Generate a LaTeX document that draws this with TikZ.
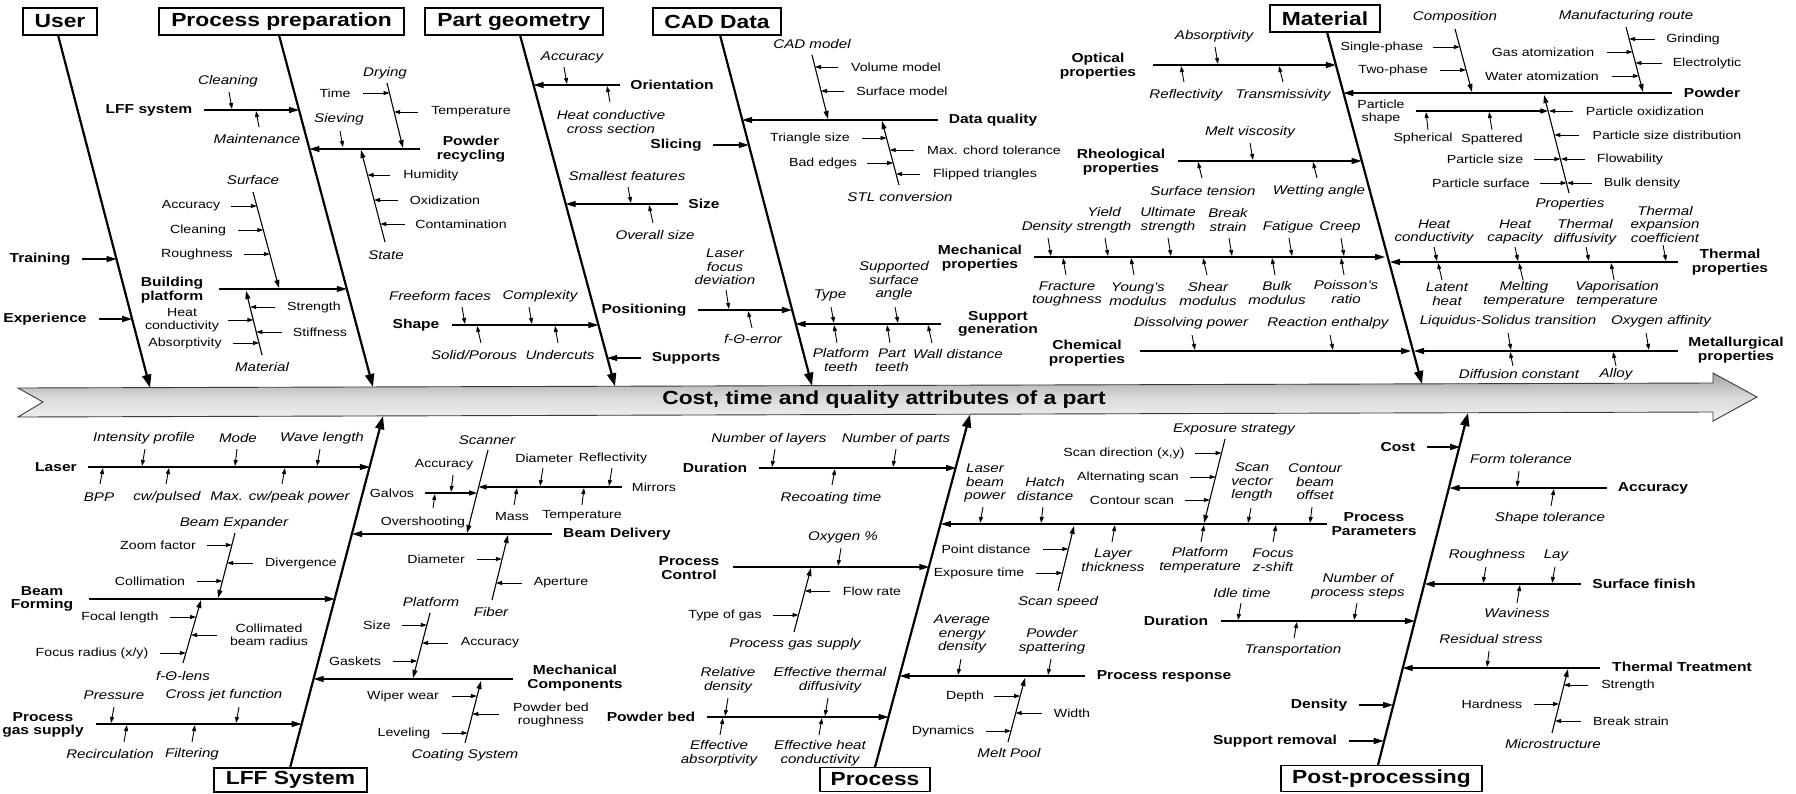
\documentclass[tikz,border=0pt]{standalone}
\usepackage{fontspec}
\setmainfont{Liberation Sans}[FakeStretch=1.2]
\usetikzlibrary{arrows.meta}
\begin{document}
\begin{tikzpicture}[x=1pt,y=-1pt,
 t/.style={font=\fontsize{11.8}{12.5}\selectfont, inner sep=0pt, align=center},
 it/.style={font=\fontsize{12.6}{13.5}\selectfont\itshape, inner sep=0pt, align=center},
 bf/.style={font=\fontsize{13}{13.5}\selectfont\bfseries, inner sep=0pt, align=center},
 ttl/.style={draw, line width=1.2pt, fill=white, font=\fontsize{19}{20}\selectfont\bfseries, inner sep=0pt},
 bone/.style={line width=2.2pt, -{Triangle[length=13pt,width=9pt]}},
 br/.style={line width=1.3pt, -{Triangle[length=10pt,width=6pt]}},
 sb/.style={line width=1.1pt, -{Triangle[length=8pt,width=5pt]}},
 tk/.style={line width=0.9pt, -{Triangle[length=6pt,width=4pt]}}]
\useasboundingbox (0,0) rectangle (1796,793);
\fill[white] (0,0) rectangle (1796,793);
% spine
\shade[top color=gray!72, bottom color=gray!10, middle color=gray!30, draw=gray!45!black, line width=0.9pt]
 (18,388) -- (1713,383) -- (1713,373) -- (1757,397) -- (1713,421) -- (1713,412) -- (18,417) -- (43,402) -- cycle;
\node[font=\fontsize{19}{20}\selectfont\bfseries] (spine) at (884,400) {Cost, time and quality attributes of a part};
% titles
\node[ttl, minimum width=74pt, minimum height=27pt] (user) at (60,21.5) {User};
\node[ttl, minimum width=245pt, minimum height=27pt] (pp) at (281.5,21.5) {Process preparation};
\node[ttl, minimum width=178pt, minimum height=27pt] (pg) at (514,21.5) {Part geometry};
\node[ttl, minimum width=128pt, minimum height=27pt] (cad) at (717,21.5) {CAD Data};
\node[ttl, minimum width=110pt, minimum height=27pt] (mat) at (1325,18.5) {Material};
\node[ttl, minimum width=153pt, minimum height=24pt] (lffS) at (290.5,780) {LFF System};
\node[ttl, minimum width=110pt, minimum height=24pt] (proc) at (875,779.5) {Process};
\node[ttl, minimum width=201pt, minimum height=26pt] (post) at (1381.5,778.5) {Post-processing};
% bone coordinates
\coordinate (userT) at (58,35);   \coordinate (userE) at (150,387.6);
\coordinate (ppT) at (279,35);    \coordinate (ppE) at (373,387);
\coordinate (pgT) at (520,35);    \coordinate (pgE) at (615,386.3);
\coordinate (cadT) at (720,35);   \coordinate (cadE) at (812,385.7);
\coordinate (matT) at (1327,32);  \coordinate (matE) at (1422,384);
\coordinate (lffT) at (290,768);  \coordinate (lffE) at (383,416.2);
\coordinate (procT) at (875,767); \coordinate (procE) at (970,414.5);
\coordinate (postT) at (1378,765);\coordinate (postE) at (1468,413);
\foreach \b in {user,pp,pg,cad,mat,lff,proc,post} {\draw[bone] (\b T) -- (\b E);}
% ===== User
\node[bf] (training) at (40,259) {Training};
\draw[br] (82,259) -- (116.6,259);
\node[bf] (experience) at (45,319) {Experience};
\draw[br] (99,319) -- (132.2,319);
% ===== Process preparation
\node[bf] (lffsys) at (149,110) {LFF system};
\draw[br] (204,110) -- (299,110);
\node[it] (clean1) at (228,81) {Cleaning};
\draw[tk] (229,92) -- (232,109);
\node[it] (maint) at (257,139) {Maintenance};
\draw[tk] (259,127) -- (256,111);
\node[bf] (powrec) at (471,149) {Powder\\recycling};
\draw[br] (420,149) -- (309.4,149);
\node[it] (drying) at (385,73) {Drying};
\draw[sb] (387,83) -- (403,148);
\node[t] (time) at (335,93) {Time};
\draw[tk] (363,93) -- (389.5,93);
\node[t] (temp1) at (471,112) {Temperature};
\draw[tk] (418,112) -- (394.1,112);
\node[it] (sieving) at (339,119) {Sieving};
\draw[tk] (340,131) -- (343,147);
\node[it] (state) at (386,255) {State};
\draw[sb] (385,242) -- (361,150);
\node[t] (humid) at (431,175) {Humidity};
\draw[tk] (390,175) -- (367.5,175);
\node[t] (oxid) at (445,200) {Oxidization};
\draw[tk] (398,200) -- (374,200);
\node[t] (contam) at (461,224) {Contamination};
\draw[tk] (405,224) -- (380.3,224);
\node[bf] (bplat) at (172,290) {Building\\platform};
\draw[br] (219,289) -- (346.8,289);
\node[it] (surface) at (253,180) {Surface};
\draw[sb] (253,192) -- (279,288);
\node[t] (acc1) at (191,206) {Accuracy};
\draw[tk] (231,206) -- (256.8,206);
\node[t] (clean2) at (198,230) {Cleaning};
\draw[tk] (238,230) -- (263.3,230);
\node[t] (rough1) at (197,254) {Roughness};
\draw[tk] (244,254) -- (269.8,254);
\node[it] (material1) at (262,367) {Material};
\draw[sb] (262,355) -- (246,291);
\node[t] (strength1) at (314,307) {Strength};
\draw[tk] (275,307) -- (250.2,307);
\node[t] (stiff) at (320,332) {Stiffness};
\draw[tk] (282,332) -- (256.3,332);
\node[t] (heatc) at (182,320) {Heat\\conductivity};
\draw[tk] (228,320) -- (253.4,320);
\node[t] (absorp1) at (185,343) {Absorptivity};
\draw[tk] (233,343) -- (259.1,343);
% ===== Part geometry
\node[bf] (orient) at (672,85) {Orientation};
\draw[br] (620,85) -- (533.5,85);
\node[it] (acc2) at (572,57) {Accuracy};
\draw[tk] (564,67) -- (567,84);
\node[it] (heatcs) at (611,122) {Heat conductive\\cross section};
\draw[tk] (610,102) -- (607,86);
\node[bf] (slicing) at (676,145) {Slicing};
\draw[br] (713,145) -- (748.8,145);
\node[bf] (size) at (704,204) {Size};
\draw[br] (678,204) -- (565.6,204);
\node[it] (smallest) at (627,176) {Smallest features};
\draw[tk] (628,187) -- (631,203);
\node[it] (overall) at (655,235) {Overall size};
\draw[tk] (653,223) -- (649,205);
\node[bf] (shape) at (416,325) {Shape};
\draw[br] (452,325) -- (598.3,325);
\node[it] (freeform) at (440,296) {Freeform faces};
\draw[tk] (462,307) -- (465,324);
\node[it] (complex) at (540,296) {Complexity};
\draw[tk] (529,307) -- (532,324);
\node[it] (solid) at (474,355) {Solid/Porous};
\draw[tk] (481,343) -- (477,326);
\node[it] (under) at (560,355) {Undercuts};
\draw[tk] (558,343) -- (555,326);
\node[bf] (posit) at (644,310) {Positioning};
\draw[br] (698,310) -- (791.9,310);
\node[it] (lfd) at (725,267) {Laser\\focus\\deviation};
\draw[tk] (726,290) -- (729,309);
\node[it] (fte) at (753,339) {f-Θ-error};
\draw[tk] (752,328) -- (748,311);
\node[bf] (supports) at (686,358) {Supports};
\draw[br] (641,358) -- (607.2,358);
% ===== CAD data
\node[bf] (dq) at (993,120) {Data quality};
\draw[br] (938,120) -- (742.2,120);
\node[it] (cadm) at (812,44) {CAD model};
\draw[sb] (812,55) -- (828,119);
\node[t] (volm) at (896,67) {Volume model};
\draw[tk] (838,67) -- (815,67);
\node[t] (surfm) at (902,91) {Surface model};
\draw[tk] (844,91) -- (821,91);
\node[it] (stl) at (900,197) {STL conversion};
\draw[sb] (899,185) -- (882,121);
\node[t] (tris) at (810,138) {Triangle size};
\draw[tk] (862,138) -- (886.5,138);
\node[t] (bade) at (823,163) {Bad edges};
\draw[tk] (867,163) -- (893.2,163);
\node[t] (mct) at (994,150) {Max. chord tolerance};
\draw[tk] (914,150) -- (889.7,150);
\node[t] (flip) at (985,174) {Flipped triangles};
\draw[tk] (920,174) -- (896.1,174);
\node[bf] (supgen) at (998,324) {Support\\generation};
\draw[br] (941,324) -- (795.5,324);
\node[it] (type) at (830,295) {Type};
\draw[tk] (831,307) -- (834,323);
\node[it] (ssa) at (894,281) {Supported\\surface\\angle};
\draw[tk] (895,307) -- (898,323);
\node[it] (platt) at (841,360) {Platform\\teeth};
\draw[tk] (837,343) -- (834,325);
\node[it] (partt) at (892,360) {Part\\teeth};
\draw[tk] (890,343) -- (887,325);
\node[it] (walld) at (958,354) {Wall distance};
\draw[tk] (932,343) -- (928,325);
% ===== Material (left side)
\node[bf] (optical) at (1098,66) {Optical\\properties};
\draw[br] (1153,65) -- (1335.8,65);
\node[it] (absorp2) at (1214,36) {Absorptivity};
\draw[tk] (1215,47) -- (1218,64);
\node[it] (reflect) at (1186,95) {Reflectivity};
\draw[tk] (1184,82) -- (1181,66);
\node[it] (transm) at (1283,95) {Transmissivity};
\draw[tk] (1283,82) -- (1279,66);
\node[bf] (rheo) at (1121,162) {Rheological\\properties};
\draw[br] (1178,161) -- (1361.5,161);
\node[it] (meltv) at (1250,132) {Melt viscosity};
\draw[tk] (1250,143) -- (1253,160);
\node[it] (surft) at (1203,191) {Surface tension};
\draw[tk] (1202,178) -- (1198,162);
\node[it] (wett) at (1319,191) {Wetting angle};
\draw[tk] (1317,178) -- (1313,162);
\node[bf] (mech) at (980,258) {Mechanical\\properties};
\draw[br] (1034,257) -- (1385,257);
\node[it] (dens1) at (1047,227) {Density};
\draw[tk] (1048,238) -- (1051,256);
\node[it] (yield) at (1104,220) {Yield\\strength};
\draw[tk] (1105,238) -- (1108,256);
\node[it] (ult) at (1168,220) {Ultimate\\strength};
\draw[tk] (1168,238) -- (1171,256);
\node[it] (brk1) at (1228,220) {Break\\strain};
\draw[tk] (1229,238) -- (1232,256);
\node[it] (fatigue) at (1288,227) {Fatigue};
\draw[tk] (1289,238) -- (1292,256);
\node[it] (creep) at (1340,227) {Creep};
\draw[tk] (1341,238) -- (1344,256);
\node[it] (fract) at (1067,294) {Fracture\\toughness};
\draw[tk] (1066,275) -- (1063,258);
\node[it] (young) at (1138,294) {Young's\\modulus};
\draw[tk] (1134,275) -- (1131,258);
\node[it] (shear) at (1208,294) {Shear\\modulus};
\draw[tk] (1207,275) -- (1203,258);
\node[it] (bulk) at (1277,293) {Bulk\\modulus};
\draw[tk] (1275,275) -- (1272,258);
\node[it] (poisson) at (1346,292) {Poisson's\\ratio};
\draw[tk] (1344,275) -- (1341,258);
\node[bf] (chem) at (1087,353) {Chemical\\properties};
\draw[br] (1140,351) -- (1411,351);
\node[it] (dissolv) at (1191,323) {Dissolving power};
\draw[tk] (1192,335) -- (1195,350);
\node[it] (react) at (1328,323) {Reaction enthalpy};
\draw[tk] (1330,335) -- (1333,350);
% ===== Material (right side)
\node[bf] (powder) at (1712,93) {Powder};
\draw[br] (1672,93) -- (1343.3,93);
\node[it] (compo) at (1455,17) {Composition};
\draw[sb] (1455,29) -- (1472,92);
\node[t] (single) at (1382,47) {Single-phase};
\draw[tk] (1433,47) -- (1459.9,47);
\node[t] (twoph) at (1393,70) {Two-phase};
\draw[tk] (1440,70) -- (1466.1,70);
\node[it] (manuf) at (1626,16) {Manufacturing route};
\draw[sb] (1626,27) -- (1643,92);
\node[t] (grind) at (1693,39) {Grinding};
\draw[tk] (1655,39) -- (1629.1,39);
\node[t] (electro) at (1707,63) {Electrolytic};
\draw[tk] (1662,63) -- (1635.4,63);
\node[t] (gasat) at (1543,52) {Gas atomization};
\draw[tk] (1607,52) -- (1632.5,52);
\node[t] (watat) at (1542,76) {Water atomization};
\draw[tk] (1612,76) -- (1638.8,76);
\node[it] (props) at (1570,204) {Properties};
\draw[sb] (1569,193) -- (1544,95);
\node[t] (pshape) at (1381,112) {Particle\\shape};
\draw[sb] (1416,111) -- (1548.3,111);
\node[t] (spher) at (1423,138) {Spherical};
\draw[tk] (1428,130) -- (1426,112);
\node[t] (spatt) at (1492,139) {Spattered};
\draw[tk] (1492,130) -- (1489,112);
\node[t] (poxid) at (1645,111) {Particle oxidization};
\draw[tk] (1573,111) -- (1549,111);
\node[t] (psd) at (1667,135) {Particle size distribution};
\draw[tk] (1579,135) -- (1554.4,135);
\node[t] (psize) at (1485,159) {Particle size};
\draw[tk] (1534,159) -- (1560.4,159);
\node[t] (flow) at (1630,159) {Flowability};
\draw[tk] (1585,159) -- (1561,159);
\node[t] (psurf) at (1481,183) {Particle surface};
\draw[tk] (1540,183) -- (1566.5,183);
\node[t] (bulkd) at (1642,183) {Bulk density};
\draw[tk] (1592,183) -- (1567,183);
\node[bf] (thermal) at (1730,262) {Thermal\\properties};
\draw[br] (1678,262) -- (1390,262);
\node[it] (hcond) at (1434,232) {Heat\\conductivity};
\draw[tk] (1434,247) -- (1437,261);
\node[it] (hcap) at (1515,232) {Heat\\capacity};
\draw[tk] (1515,247) -- (1518,261);
\node[it] (tdiff) at (1585,232) {Thermal\\diffusivity};
\draw[tk] (1586,247) -- (1589,261);
\node[it] (texp) at (1665,224) {Thermal\\expansion\\coefficient};
\draw[tk] (1663,245) -- (1666,261);
\node[it] (latent) at (1447,294) {Latent\\heat};
\draw[tk] (1442,280) -- (1438,263);
\node[it] (meltt) at (1524,294) {Melting\\temperature};
\draw[tk] (1523,280) -- (1519,263);
\node[it] (vapt) at (1617,294) {Vaporisation\\temperature};
\draw[tk] (1614,280) -- (1611,263);
\node[bf] (metal) at (1736,350) {Metallurgical\\properties};
\draw[br] (1678,351) -- (1414,351);
\node[it] (liqsol) at (1508,321) {Liquidus-Solidus transition};
\draw[tk] (1508,333) -- (1511,350);
\node[it] (oxaff) at (1661,321) {Oxygen affinity};
\draw[tk] (1646,333) -- (1649,350);
\node[it] (diffc) at (1519,374) {Diffusion constant};
\draw[tk] (1513,366) -- (1510,352);
\node[it] (alloy) at (1616,374) {Alloy};
\draw[tk] (1616,366) -- (1613,352);
% ===== LFF System
\node[bf] (laser) at (56,467) {Laser};
\draw[br] (88,467) -- (369.8,467);
\node[it] (intprof) at (144,438) {Intensity profile};
\draw[tk] (145,449) -- (142,466);
\node[it] (mode) at (238,438) {Mode};
\draw[tk] (237,449) -- (235,466);
\node[it] (wavel) at (322,438) {Wave length};
\draw[tk] (320,449) -- (317,466);
\node[it] (bpp) at (99,497) {BPP};
\draw[tk] (100,484) -- (103,468);
\node[it] (cwp) at (167,497) {cw/pulsed};
\draw[tk] (166,484) -- (169,468);
\node[it] (maxcw) at (280,497) {Max. cw/peak power};
\draw[tk] (282,484) -- (285,468);
\node[bf] (bform) at (42,599) {Beam\\Forming};
\draw[br] (89,599) -- (334.8,599);
\node[it] (bexp) at (234,523) {Beam Expander};
\draw[sb] (235,533) -- (218,598);
\node[t] (zoomf) at (158,545) {Zoom factor};
\draw[tk] (207,545) -- (231.9,545);
\node[t] (diverg) at (301,563) {Divergence};
\draw[tk] (253,563) -- (227.2,563);
\node[t] (collim) at (150,581) {Collimation};
\draw[tk] (197,581) -- (222.4,581);
\node[it] (ftl) at (183,676) {f-Θ-lens};
\draw[sb] (183,663) -- (201,600);
\node[t] (focal) at (120,617) {Focal length};
\draw[tk] (170,617) -- (196.1,617);
\node[t] (cbr) at (269,635) {Collimated\\beam radius};
\draw[tk] (217,635) -- (191,635);
\node[t] (focr) at (92,653) {Focus radius (x/y)};
\draw[tk] (160,653) -- (185.9,653);
\node[bf] (pgs) at (43,725) {Process\\gas supply};
\draw[br] (96,724) -- (301.7,724);
\node[it] (press) at (114,695) {Pressure};
\draw[tk] (114,707) -- (111,723);
\node[it] (cjf) at (224,695) {Cross jet function};
\draw[tk] (239,707) -- (236,723);
\node[it] (recirc) at (110,754) {Recirculation};
\draw[tk] (124,742) -- (127,725);
\node[it] (filt) at (192,754) {Filtering};
\draw[tk] (192,742) -- (195,725);
\node[bf] (bdel) at (617,534) {Beam Delivery};
\draw[br] (552,534) -- (352,534);
\node[it] (scanner) at (487,440) {Scanner};
\draw[sb] (488,450) -- (467,533);
\node[t] (galvos) at (392,493) {Galvos};
\draw[sb] (425,493) -- (477.1,493);
\node[t] (acc3) at (444,465) {Accuracy};
\draw[tk] (453,475) -- (451,492);
\node[t] (oversh) at (423,522) {Overshooting};
\draw[tk] (433,508) -- (435,494);
\node[t] (mirrors) at (654,487) {Mirrors};
\draw[sb] (622,487) -- (478.6,487);
\node[t] (diam1) at (544,458) {Diameter};
\draw[tk] (543,468) -- (540,486);
\node[t] (reflect2) at (613,458) {Reflectivity};
\draw[tk] (612,468) -- (609,486);
\node[t] (mass) at (512,516) {Mass};
\draw[tk] (514,505) -- (517,488);
\node[t] (temp2) at (582,516) {Temperature};
\draw[tk] (582,505) -- (584,488);
\node[it] (fiber) at (491,612) {Fiber};
\draw[sb] (492,600) -- (508,535);
\node[t] (diam2) at (436,559) {Diameter};
\draw[tk] (477,559) -- (501.8,559);
\node[t] (apert) at (561,583) {Aperture};
\draw[tk] (522,583) -- (496,583);
\node[bf] (mechc) at (575,678) {Mechanical\\Components};
\draw[br] (513,679) -- (313.6,679);
\node[it] (platform) at (431,602) {Platform};
\draw[sb] (430,613) -- (413,678);
\node[t] (size2) at (377,625) {Size};
\draw[tk] (402,625) -- (426.8,625);
\node[t] (acc4) at (490,643) {Accuracy};
\draw[tk] (448,643) -- (422,643);
\node[t] (gaskets) at (355,661) {Gaskets};
\draw[tk] (393,661) -- (417.2,661);
\node[it] (coat) at (465,755) {Coating System};
\draw[sb] (465,743) -- (481,681);
\node[t] (wiper) at (403,696) {Wiper wear};
\draw[tk] (452,696) -- (476.9,696);
\node[t] (pbr) at (551,715) {Powder bed\\roughness};
\draw[tk] (499,714) -- (472.4,714);
\node[t] (level) at (404,733) {Leveling};
\draw[tk] (442,733) -- (467.5,733);
% ===== Process
\node[bf] (dur1) at (715,468) {Duration};
\draw[br] (759,468) -- (956.1,468);
\node[it] (nlay) at (769,439) {Number of layers};
\draw[tk] (775,449) -- (772,467);
\node[it] (nparts) at (896,439) {Number of parts};
\draw[tk] (896,449) -- (893,467);
\node[it] (recoat) at (831,498) {Recoating time};
\draw[tk] (832,485) -- (835,469);
\node[bf] (pctrl) at (689,568) {Process\\Control};
\draw[br] (733,567) -- (929.3,567);
\node[it] (oxy) at (843,537) {Oxygen \%};
\draw[tk] (841,548) -- (838,566);
\node[it] (pgs2) at (795,644) {Process gas supply};
\draw[sb] (794,632) -- (811,568);
\node[t] (flowr) at (872,591) {Flow rate};
\draw[tk] (830,591) -- (804.9,591);
\node[t] (tgas) at (725,615) {Type of gas};
\draw[tk] (773,615) -- (798.5,615);
\node[bf] (pbed) at (651,717) {Powder bed};
\draw[br] (707,717) -- (888.6,717);
\node[it] (reld) at (728,680) {Relative\\density};
\draw[tk] (728,698) -- (725,716);
\node[it] (etd) at (830,680) {Effective thermal\\diffusivity};
\draw[tk] (828,698) -- (825,716);
\node[it] (eabs) at (719,753) {Effective\\absorptivity};
\draw[tk] (720,735) -- (723,718);
\node[it] (ehc) at (820,753) {Effective heat\\conductivity};
\draw[tk] (819,735) -- (822,718);
\node[bf] (ppar) at (1374,524) {Process\\Parameters};
\draw[br] (1327,524) -- (940.9,524);
\node[it] (lbp) at (985,483) {Laser\\beam\\power};
\draw[tk] (983,507) -- (980,523);
\node[it] (hatch) at (1045,489) {Hatch\\distance};
\draw[tk] (1043,507) -- (1041,523);
\node[it] (expstr) at (1234,429) {Exposure strategy};
\draw[sb] (1225,439) -- (1204,523);
\node[t] (scandir) at (1124,453) {Scan direction (x,y)};
\draw[tk] (1195,453) -- (1221.5,453);
\node[t] (altscan) at (1128,477) {Alternating scan};
\draw[tk] (1190,477) -- (1215.6,477);
\node[t] (contscan) at (1132,500) {Contour scan};
\draw[tk] (1185,500) -- (1209.9,500);
\node[it] (svl) at (1252,482) {Scan\\vector\\length};
\draw[tk] (1251,508) -- (1248,523);
\node[it] (cbo) at (1315,482) {Contour\\beam\\offset};
\draw[tk] (1312,507) -- (1310,523);
\node[it] (sspeed) at (1058,602) {Scan speed};
\draw[sb] (1058,591) -- (1074,526);
\node[t] (pdist) at (986,549) {Point distance};
\draw[tk] (1043,549) -- (1068.3,549);
\node[t] (exptime) at (979,573) {Exposure time};
\draw[tk] (1036,573) -- (1062.4,573);
\node[it] (layert) at (1113,560) {Layer\\thickness};
\draw[tk] (1112,542) -- (1115,525);
\node[it] (platt2) at (1200,560) {Platform\\temperature};
\draw[tk] (1201,542) -- (1204,525);
\node[it] (focz) at (1273,560) {Focus\\z-shift};
\draw[tk] (1273,542) -- (1276,525);
\node[bf] (presp) at (1164,676) {Process response};
\draw[br] (1085,676) -- (899.7,676);
\node[it] (aed) at (962,634) {Average\\energy\\density};
\draw[tk] (961,659) -- (958,675);
\node[it] (pspat) at (1052,641) {Powder\\spattering};
\draw[tk] (1051,659) -- (1048,675);
\node[it] (mpool) at (1009,753) {Melt Pool};
\draw[sb] (1008,742) -- (1025,678);
\node[t] (depth) at (965,696) {Depth};
\draw[tk] (994,696) -- (1020.2,696);
\node[t] (width) at (1072,713) {Width};
\draw[tk] (1042,713) -- (1015.7,713);
\node[t] (dyn) at (943,731) {Dynamics};
\draw[tk] (986,731) -- (1010.9,731);
\node[bf] (dur2) at (1176,621) {Duration};
\draw[br] (1221,621) -- (1414.9,621);
\node[it] (idle) at (1242,593) {Idle time};
\draw[tk] (1241,603) -- (1238,620);
\node[it] (nps) at (1358,586) {Number of\\process steps};
\draw[tk] (1357,603) -- (1354,620);
\node[it] (transp) at (1293,650) {Transportation};
\draw[tk] (1294,638) -- (1297,622);
\node[bf] (density2) at (1319,705) {Density};
\draw[br] (1359,705) -- (1393.1,705);
\node[bf] (suprem) at (1275,741) {Support removal};
\draw[br] (1349,741) -- (1383.7,741);
% ===== Post-processing
\node[bf] (cost) at (1398,447) {Cost};
\draw[br] (1427,447) -- (1460.2,447);
\node[bf] (acc5) at (1653,488) {Accuracy};
\draw[br] (1607,488) -- (1449.5,488);
\node[it] (formt) at (1521,459) {Form tolerance};
\draw[tk] (1519,471) -- (1517,487);
\node[it] (shapet) at (1550,518) {Shape tolerance};
\draw[tk] (1551,506) -- (1554,489);
\node[bf] (surff) at (1644,584) {Surface finish};
\draw[br] (1581,584) -- (1424.6,584);
\node[it] (rough2) at (1487,555) {Roughness};
\draw[tk] (1486,567) -- (1483,583);
\node[it] (lay) at (1556,555) {Lay};
\draw[tk] (1555,567) -- (1552,583);
\node[it] (wavi) at (1517,613) {Waviness};
\draw[tk] (1517,603) -- (1520,585);
\node[bf] (thtr) at (1682,667) {Thermal Treatment};
\draw[br] (1600,668) -- (1402.7,668);
\node[it] (resid) at (1491,639) {Residual stress};
\draw[tk] (1489,651) -- (1487,667);
\node[it] (micro) at (1553,744) {Microstructure};
\draw[sb] (1552,733) -- (1568,669);
\node[t] (strength2) at (1628,685) {Strength};
\draw[tk] (1588,685) -- (1563.8,685);
\node[t] (hard) at (1492,704) {Hardness};
\draw[tk] (1534,704) -- (1559.1,704);
\node[t] (brk2) at (1631,721) {Break strain};
\draw[tk] (1581,721) -- (1555,721);
\end{tikzpicture}
\end{document}
